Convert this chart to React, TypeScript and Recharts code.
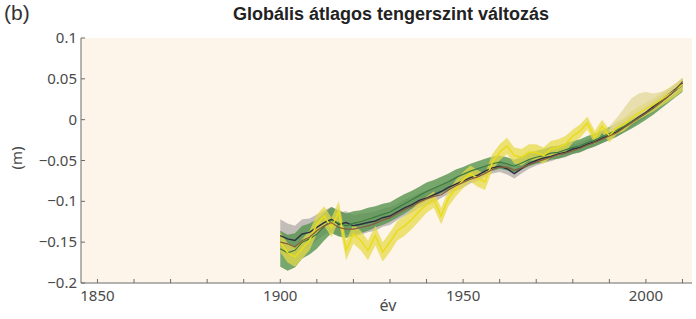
import {
  ComposedChart,
  Area,
  Line,
  XAxis,
  YAxis,
  CartesianGrid,
} from "recharts";

// years, every second year
const years = [
  1900, 1902, 1904, 1906, 1908, 1910, 1912, 1914, 1916, 1918,
  1920, 1922, 1924, 1926, 1928, 1930, 1932, 1934, 1936, 1938,
  1940, 1942, 1944, 1946, 1948, 1950, 1952, 1954, 1956, 1958,
  1960, 1962, 1964, 1966, 1968, 1970, 1972, 1974, 1976, 1978,
  1980, 1982, 1984, 1986, 1988, 1990, 1992, 1994, 1996, 1998,
  2000, 2002, 2004, 2006, 2008, 2010,
];

// dark line with grey band
const navyMid = [
  -0.142, -0.146, -0.148, -0.14, -0.138, -0.132, -0.126, -0.122, -0.128, -0.126,
  -0.13, -0.128, -0.126, -0.124, -0.12, -0.118, -0.113, -0.108, -0.104, -0.099,
  -0.096, -0.092, -0.088, -0.083, -0.079, -0.075, -0.071, -0.068, -0.063, -0.059,
  -0.057, -0.06, -0.066, -0.06, -0.054, -0.05, -0.047, -0.045, -0.042, -0.04,
  -0.036, -0.034, -0.03, -0.027, -0.023, -0.019, -0.015, -0.009, -0.003, 0.003,
  0.009, 0.016, 0.023, 0.03, 0.037, 0.045,
];
const navyUnc = [
  0.02, 0.019, 0.018, 0.018, 0.017, 0.016, 0.015, 0.015, 0.014, 0.014,
  0.013, 0.013, 0.012, 0.012, 0.011, 0.011, 0.01, 0.01, 0.01, 0.009,
  0.009, 0.009, 0.008, 0.008, 0.008, 0.008, 0.007, 0.007, 0.007, 0.007,
  0.007, 0.007, 0.006, 0.006, 0.006, 0.006, 0.006, 0.006, 0.006, 0.006,
  0.006, 0.006, 0.006, 0.006, 0.006, 0.006, 0.006, 0.006, 0.006, 0.006,
  0.006, 0.006, 0.006, 0.006, 0.006, 0.006,
];

// green band
const greenMid = [
  -0.158, -0.163, -0.16, -0.15, -0.146, -0.14, -0.131, -0.123, -0.127, -0.13,
  -0.127, -0.125, -0.122, -0.119, -0.116, -0.113, -0.108, -0.103, -0.098, -0.093,
  -0.088, -0.084, -0.08, -0.076, -0.071, -0.067, -0.063, -0.06, -0.057, -0.054,
  -0.052, -0.054, -0.057, -0.053, -0.049, -0.046, -0.044, -0.041, -0.04, -0.037,
  -0.034, -0.032, -0.028, -0.025, -0.021, -0.017, -0.013, -0.008, -0.003, 0.002,
  0.008, 0.014, 0.021, 0.028, 0.035, 0.042,
];
const greenUnc = [
  0.022, 0.022, 0.021, 0.02, 0.019, 0.018, 0.017, 0.016, 0.016, 0.015,
  0.015, 0.014, 0.014, 0.013, 0.013, 0.012, 0.012, 0.012, 0.011, 0.011,
  0.011, 0.01, 0.01, 0.01, 0.01, 0.009, 0.009, 0.009, 0.009, 0.009,
  0.008, 0.008, 0.008, 0.008, 0.008, 0.008, 0.008, 0.008, 0.008, 0.008,
  0.008, 0.008, 0.008, 0.008, 0.008, 0.008, 0.008, 0.008, 0.008, 0.008,
  0.008, 0.008, 0.008, 0.008, 0.008, 0.008,
];

// yellow band
const yellowMid = [
  -0.15, -0.163, -0.168, -0.158, -0.148, -0.128, -0.118, -0.132, -0.112, -0.16,
  -0.14, -0.148, -0.16, -0.142, -0.162, -0.15, -0.136, -0.13, -0.122, -0.112,
  -0.104, -0.098, -0.118, -0.096, -0.084, -0.074, -0.066, -0.072, -0.076, -0.052,
  -0.04, -0.032, -0.044, -0.046, -0.04, -0.04, -0.044, -0.036, -0.034, -0.03,
  -0.02, -0.014, -0.004, -0.022, -0.008, -0.02, -0.01, -0.006, 0.002, 0.008,
  0.013, 0.018, 0.024, 0.03, 0.036, 0.043,
];
const yellowUnc = [
  0.012, 0.012, 0.012, 0.012, 0.012, 0.012, 0.012, 0.012, 0.012, 0.012,
  0.012, 0.012, 0.012, 0.012, 0.012, 0.012, 0.012, 0.012, 0.012, 0.012,
  0.01, 0.01, 0.01, 0.01, 0.01, 0.01, 0.01, 0.01, 0.01, 0.01,
  0.01, 0.01, 0.01, 0.01, 0.01, 0.01, 0.01, 0.01, 0.01, 0.01,
  0.008, 0.008, 0.008, 0.008, 0.008, 0.008, 0.008, 0.008, 0.008, 0.008,
  0.008, 0.008, 0.008, 0.008, 0.008, 0.008,
];

// brown line
const brownMid = [
  -0.15, -0.152, -0.156, -0.148, -0.144, -0.136, -0.13, -0.126, -0.132, -0.134,
  -0.134, -0.132, -0.13, -0.127, -0.123, -0.12, -0.115, -0.11, -0.106, -0.101,
  -0.097, -0.094, -0.092, -0.086, -0.081, -0.077, -0.073, -0.07, -0.066, -0.061,
  -0.058, -0.058, -0.062, -0.059, -0.055, -0.052, -0.049, -0.046, -0.043, -0.041,
  -0.038, -0.035, -0.031, -0.028, -0.024, -0.02, -0.016, -0.01, -0.004, 0.002,
  0.008, 0.014, 0.021, 0.028, 0.036, 0.047,
];

// light band at the end
const satYears = [1990, 1992, 1994, 1996, 1998, 2000, 2002, 2004, 2006, 2008, 2010];
const satLow = [-0.016, -0.01, -0.004, 0.0, 0.005, 0.01, 0.014, 0.02, 0.026, 0.032, 0.04];
const satHigh = [-0.008, 0.002, 0.014, 0.026, 0.032, 0.034, 0.032, 0.034, 0.038, 0.044, 0.05];

const xTicks = [
  1850, 1860, 1870, 1880, 1890, 1900, 1910, 1920, 1930, 1940,
  1950, 1960, 1970, 1980, 1990, 2000, 2010,
];
const yTicks = [0.1, 0.05, 0, -0.05, -0.1, -0.15, -0.2];

const rows = years.map((year, i) => {
  const s = satYears.indexOf(year);
  return {
    year,
    grey: [navyMid[i] - navyUnc[i], navyMid[i] + navyUnc[i]],
    navy: navyMid[i],
    green: [greenMid[i] - greenUnc[i], greenMid[i] + greenUnc[i]],
    greenLine: greenMid[i],
    yellow: [yellowMid[i] - yellowUnc[i], yellowMid[i] + yellowUnc[i]],
    yellowLine: yellowMid[i],
    brown: brownMid[i],
    sat: s >= 0 ? [satLow[s], satHigh[s]] : null,
  };
});

const axisColor = "#6b6b6b";
const tickFont = "'Noto Sans', sans-serif";

const fmtY = (v: number) => (v < 0 ? "\u2212" + String(-v) : String(v));

const BottomTick = (props: any) => {
  const { x, y, payload } = props;
  return (
    <g>
      <line x1={x} x2={x} y1={y} y2={y - 4} stroke={axisColor} />
      {payload.value % 50 === 0 && (
        <text x={x} y={y + 18} textAnchor="middle" fontSize={15} fontFamily={tickFont} fill="#4a4a4a">
          {payload.value}
        </text>
      )}
    </g>
  );
};

const TopTick = (props: any) => {
  const { x, y } = props;
  return <line x1={x} x2={x} y1={y} y2={y + 4} stroke={axisColor} />;
};

const LeftTick = (props: any) => {
  const { x, y, payload } = props;
  return (
    <g>
      <line x1={x} x2={x + 4} y1={y} y2={y} stroke={axisColor} />
      <text x={x - 4} y={y + 5} textAnchor="end" fontSize={15} fontFamily={tickFont} fill="#4a4a4a">
        {fmtY(payload.value)}
      </text>
    </g>
  );
};

const RightTick = (props: any) => {
  const { x, y } = props;
  return <line x1={x} x2={x - 4} y1={y} y2={y} stroke={axisColor} />;
};

export default function App() {
  return (
    <div style={{ position: "absolute", left: 0, top: 0, width: 696, height: 319, background: "#fff" }}>
      <ComposedChart
        width={696}
        height={319}
        data={rows}
        margin={{ top: 38, right: 4, bottom: 0, left: 21 }}
      >
        <CartesianGrid horizontal={false} vertical={false} fill="#fdf5ea" />
        <XAxis
          dataKey="year"
          type="number"
          domain={[1845.5, 2012.6]}
          allowDataOverflow
          ticks={xTicks}
          interval={0}
          height={36}
          tickSize={0}
          tickMargin={0}
          tick={BottomTick}
          axisLine={{ stroke: axisColor }}
        />
        <XAxis
          xAxisId="top"
          orientation="top"
          dataKey="year"
          type="number"
          domain={[1845.5, 2012.6]}
          allowDataOverflow
          ticks={xTicks}
          interval={0}
          height={0}
          tickSize={0}
          tickMargin={0}
          tick={TopTick}
          axisLine={{ stroke: axisColor }}
        />
        <YAxis
          type="number"
          domain={[-0.2, 0.1]}
          ticks={yTicks}
          interval={0}
          width={60}
          tickSize={0}
          tickMargin={0}
          tick={LeftTick}
          axisLine={{ stroke: axisColor }}
        />
        <YAxis
          yAxisId="right"
          orientation="right"
          type="number"
          domain={[-0.2, 0.1]}
          ticks={yTicks}
          interval={0}
          width={0}
          tickSize={0}
          tickMargin={0}
          tick={RightTick}
          axisLine={{ stroke: axisColor }}
        />
        <Area dataKey="grey" stroke="none" fill="#b9b3b0" fillOpacity={0.85} isAnimationActive={false} />
        <Area dataKey="green" stroke="none" fill="#56944f" fillOpacity={0.8} isAnimationActive={false} />
        <Line dataKey="navy" stroke="#2b3142" strokeWidth={1.5} dot={false} isAnimationActive={false} />
        <Line dataKey="greenLine" stroke="#3d7a3e" strokeWidth={1.2} dot={false} isAnimationActive={false} />
        <Area dataKey="yellow" stroke="none" fill="#e6d94a" fillOpacity={0.75} isAnimationActive={false} />
        <Line dataKey="yellowLine" stroke="#e8dc1c" strokeWidth={1.5} dot={false} isAnimationActive={false} />
        <Area dataKey="sat" stroke="none" fill="#e2d79a" fillOpacity={0.75} isAnimationActive={false} />
        <Line dataKey="brown" stroke="#8a5a3c" strokeWidth={1.2} dot={false} isAnimationActive={false} />
      </ComposedChart>

      <div style={{ position: "absolute", left: 4, top: 1, fontSize: 21, fontFamily: "'Liberation Sans', sans-serif", color: "#333" }}>
        (b)
      </div>
      <div
        style={{
          position: "absolute",
          left: 0,
          width: 782,
          top: 4,
          textAlign: "center",
          fontSize: 18,
          fontWeight: "bold",
          fontFamily: "'Liberation Sans', sans-serif",
          color: "#222",
        }}
      >
        Globális átlagos tengerszint változás
      </div>
      <div
        style={{
          position: "absolute",
          left: 16,
          top: 158,
          transform: "translate(-50%, -50%) rotate(-90deg)",
          fontSize: 15,
          fontFamily: tickFont,
          color: "#4a4a4a",
        }}
      >
        (m)
      </div>
      <div
        style={{
          position: "absolute",
          left: 388,
          top: 305,
          transform: "translate(-50%, -50%)",
          fontSize: 16,
          fontFamily: tickFont,
          color: "#4a4a4a",
        }}
      >
        év
      </div>
    </div>
  );
}
